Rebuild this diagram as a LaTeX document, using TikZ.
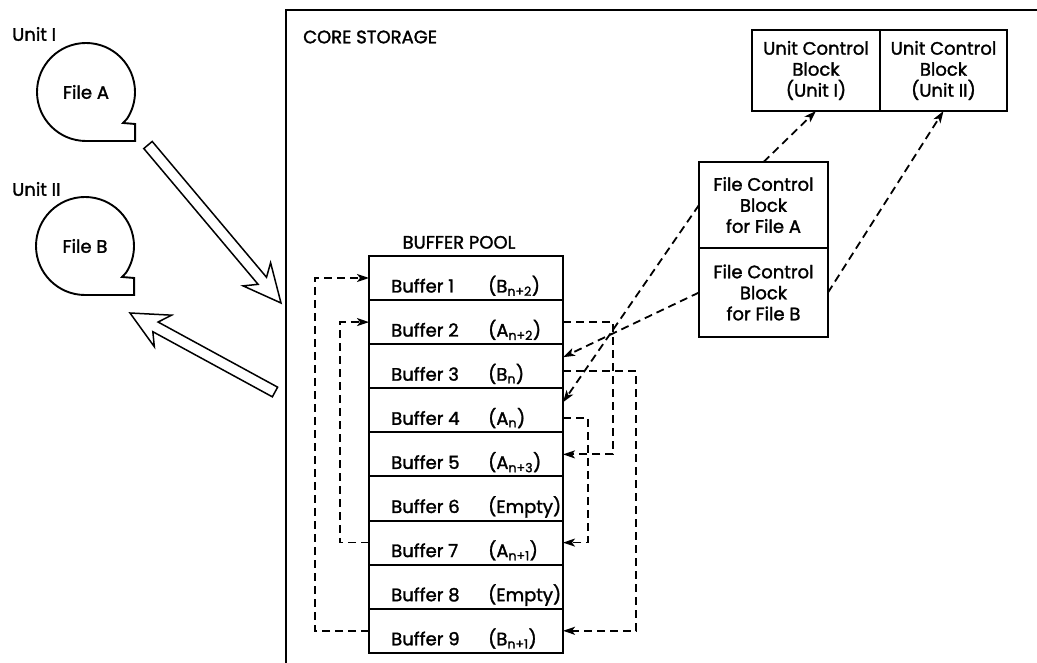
\documentclass[tikz,border=0pt]{standalone}
\usepackage{fontspec}
\setmainfont{Poppins}[UprightFeatures={FakeBold=1.6}]
\usetikzlibrary{arrows.meta,positioning,calc}
\tikzset{
    buffer/.style={rectangle,draw,line width=2pt,minimum width=194pt,minimum height=44.1pt,inner sep=0pt,outer sep=0pt},
    block/.style={rectangle,draw,line width=2pt,align=center,inner sep=0pt,outer sep=0pt},
    reel/.style={circle,minimum size=98pt,inner sep=0pt,outer sep=0pt},
    tape/.style={line width=1.9pt},
    wall/.style={line width=2.1pt},
    hollow/.style={line width=1.5pt,fill=white},
    link/.style={line width=1.8pt,dash pattern=on 8pt off 5pt,-{Stealth[length=12pt,width=8pt,inset=3pt]}},
    plain/.style={inner sep=0pt}
}
\newcommand\reelpath[1]{%
    \draw[tape] (#1.south) arc[start angle=-90,end angle=-393,radius=49pt]
        -- ++(-4,-4.3) -- ++(12,-1) |- (#1.south);}
\newcommand\hollowarrow[2]{%
    \coordinate (#1 j) at ($(#2)!29pt!(#1)$);
    \draw[hollow] ($(#1)!5.5pt!90:(#2)$) -- ($(#1 j)!5.5pt!-90:(#1)$)
        -- ($(#2)!41.6pt!-25.6:(#1)$) -- (#2) -- ($(#2)!41.6pt!25.6:(#1)$)
        -- ($(#1 j)!5.5pt!90:(#1)$) -- ($(#1)!5.5pt!-90:(#2)$) -- cycle;}

\begin{document}
\begin{tikzpicture}[x=1pt,y=1pt,font=\fontsize{18}{21}\selectfont]
\useasboundingbox (0,0) rectangle (1037,662);

% core storage
\draw[wall] (1040,652) -- (286,652) -- (286,-3);
\node[plain,anchor=west] (core) at (303,625) {CORE STORAGE};

% tape units
\node[plain,anchor=west] (unit 1) at (12,628) {Unit I};
\node[reel] (file A) at (86,570) {File A};
\reelpath{file A}
\node[plain,anchor=west] (unit 2) at (12,473) {Unit II};
\node[reel] (file B) at (85,416) {File B};
\reelpath{file B}

% control blocks
\node[block,minimum width=128pt,minimum height=81pt] (ucb 1) at (816,591.5) {Unit Control\\Block\\(Unit I)};
\node[block,minimum width=127pt,minimum height=81pt,right=0pt of ucb 1] (ucb 2) {Unit Control\\Block\\(Unit II)};
\node[block,minimum width=129pt,minimum height=86pt] (fcb A) at (763.5,457) {File Control\\Block\\for File A};
\node[block,minimum width=129pt,minimum height=89pt,below=0pt of fcb A] (fcb B) {File Control\\Block\\for File B};

% buffer pool
\foreach \i/\what [remember=\i as \last (initially 0)] in {1/{(B\textsubscript{n+2})},2/{(A\textsubscript{n+2})},3/{(B\textsubscript{n})},4/{(A\textsubscript{n})},5/{(A\textsubscript{n+3})},6/{(Empty)},7/{(A\textsubscript{n+1})},8/{(Empty)},9/{(B\textsubscript{n+1})}} {
    \ifnum\i=1
        \node[buffer] (buf 1) at (466,384) {};
    \else
        \node[buffer,below=0pt of buf \last] (buf \i) {};
    \fi
    \node[plain,anchor=base west] (name \i) at ([xshift=22pt,yshift=-14.5pt]buf \i.west) {Buffer \i};
    \node[plain,anchor=base west] (data \i) at ([xshift=119pt,yshift=-14.5pt]buf \i.west) {\what};
}
\node[plain,above=7pt of buf 1,xshift=-7pt] (pool) {BUFFER POOL};

% buffer chaining
\draw[link] (buf 9.west) -- ++(-54,0) |- (buf 1.west);
\draw[link] (buf 7.west) -- ++(-29,0) |- (buf 2.west);
\draw[link] (buf 2.east) -- ++(50,0) |- (buf 5.east);
\draw[link] ([yshift=-5pt]buf 3.east) -- ++(73,0) |- (buf 9.east);
\draw[link] ([yshift=-8pt]buf 4.east) -- ++(25,0) |- (buf 7.east);

% control block pointers
\draw[link] (fcb A.west) -- ([yshift=8pt]buf 4.east);
\draw[link] (fcb B.west) -- ([yshift=9pt]buf 3.east);
\draw[link] (fcb A.north) -- (ucb 1.south);
\draw[link] (fcb B.east) -- (ucb 2.south);

% data flow between units and core
\coordinate (in tail) at (148,517);
\coordinate (in tip) at (281,359);
\coordinate (out tail) at (275,270);
\coordinate (out tip) at (130,349);
\hollowarrow{in tail}{in tip}
\hollowarrow{out tail}{out tip}

\end{tikzpicture}
\end{document}
